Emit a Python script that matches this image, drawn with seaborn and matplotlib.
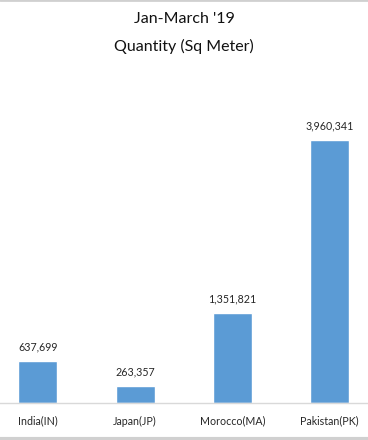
import matplotlib
matplotlib.use("Agg")
import matplotlib.pyplot as plt
import seaborn as sns
import pandas as pd
from matplotlib.lines import Line2D

categories = ["India(IN)", "Japan(JP)", "Morocco(MA)", "Pakistan(PK)"]
values = [637699, 263357, 1351821, 3960341]
title_lines = ["Jan-March '19", "Quantity (Sq Meter)"]

sns.set_theme(style="white")
plt.rcParams['font.family'] = ['Lato', 'DejaVu Sans']

df = pd.DataFrame({"country": categories, "qty": values})

W, H = 368, 440
fig = plt.figure(figsize=(W / 100, H / 100), dpi=100)
base_y = 403
top_y = 100
ax = fig.add_axes([0, (H - base_y) / H, 1, (base_y - top_y) / H])

sns.barplot(data=df, x="country", y="qty", color="#5B9BD5", width=0.4,
            saturation=1, ax=ax)

ymax = values[3] * (base_y - top_y) / (base_y - 140)
ax.set_ylim(0, ymax)
ax.set_xlim(-0.39, 3.396)

for i, v in enumerate(values):
    ax.annotate(f"{v:,}", (i, v), xytext=(0, 6), textcoords="offset points",
                ha="center", va="bottom", fontsize=7.7, color="#262626")

for s in ["top", "right", "left"]:
    ax.spines[s].set_visible(False)
ax.spines["bottom"].set_color("#D9D9D9")
ax.spines["bottom"].set_linewidth(1)
ax.set_yticks([])
ax.set_xlabel("")
ax.set_ylabel("")
ax.tick_params(axis="x", length=0, pad=9, labelsize=7.7, labelcolor="#262626")

fig.text(0.5, 1 - 19 / H, title_lines[0], ha="center", va="center",
         fontsize=11.5, color="#111111")
fig.text(0.5, 1 - 46 / H, title_lines[1], ha="center", va="center",
         fontsize=11.5, color="#111111")

# light gray frame lines at top and bottom
fig.add_artist(Line2D([0, 1], [1 - 0.5 / H, 1 - 0.5 / H], transform=fig.transFigure,
                      color="#D0D0D0", lw=2))
fig.add_artist(Line2D([0, 1], [1.5 / H, 1.5 / H], transform=fig.transFigure,
                      color="#D0D0D0", lw=3))

fig.savefig("out.png", dpi=100)
